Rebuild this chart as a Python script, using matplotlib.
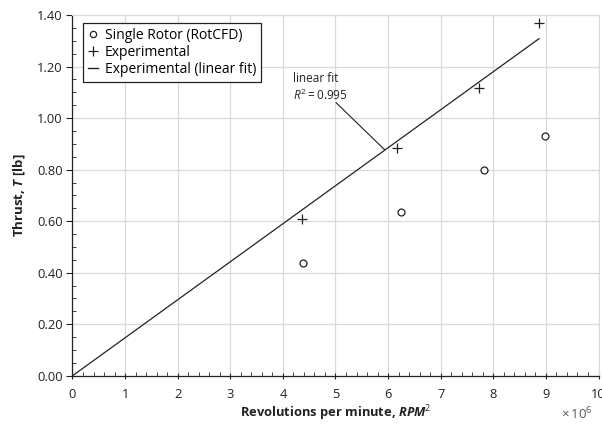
"""
Thrust vs RPM^2: single rotor RotCFD against experiment, with linear fit.
Output: out.png
"""

import numpy as np
import matplotlib
matplotlib.use("Agg")
import matplotlib.pyplot as plt
from matplotlib.ticker import MultipleLocator, FormatStrFormatter
from matplotlib.lines import Line2D

# ── Data (x in units of 10^6 RPM^2) ──────────────────────────────────────────
RPM2_CFD   = [4.38, 6.24, 7.82, 8.99]
THRUST_CFD = [0.437, 0.634, 0.800, 0.930]

RPM2_EXP   = [4.36, 6.17, 7.73, 8.87]
THRUST_EXP = [0.610, 0.885, 1.115, 1.368]

FIT_SLOPE  = 0.1475          # lb per 10^6 RPM^2, line through origin
FIT_X      = [0.0, 8.87]
FIT_R2     = 0.995

FONT = "Open Sans"
plt.rcParams["font.family"] = [FONT, "DejaVu Sans"]
plt.rcParams["mathtext.fontset"] = "custom"
plt.rcParams["mathtext.rm"] = FONT
plt.rcParams["mathtext.it"] = f"{FONT}:italic"
plt.rcParams["mathtext.bf"] = f"{FONT}:bold"
plt.rcParams["mathtext.bfit"] = f"{FONT}:bold:italic"

GRID = "#d9d9d9"
INK = "#222222"

fig = plt.figure(figsize=(6.02, 4.24), dpi=100)
ax = fig.add_axes([0.1204, 0.1137, 0.8738, 0.8509])

fit_x = np.array(FIT_X)
ax.plot(fit_x, FIT_SLOPE * fit_x, color=INK, lw=0.9, zorder=3)
ax.plot(RPM2_EXP, THRUST_EXP, ls="none", marker="+", ms=7, mew=0.9,
        color=INK, zorder=4)
ax.plot(RPM2_CFD, THRUST_CFD, ls="none", marker="o", ms=5, mew=0.9,
        mfc="white", mec=INK, zorder=4)

# annotation: label plus leader line down to the fit
ax.text(4.19, 1.178, f"linear fit\n$R^2 = {FIT_R2:.3f}$", ha="left", va="top",
        fontsize=8.5, color=INK, linespacing=1.25)
ax.annotate("", xy=(5.94, FIT_SLOPE * 5.94), xytext=(5.01, 1.060),
            arrowprops=dict(arrowstyle="-", color=INK, lw=0.8,
                            shrinkA=0, shrinkB=0))

ax.set_xlim(0, 10)
ax.set_ylim(0, 1.40)
ax.xaxis.set_major_locator(MultipleLocator(1))
ax.xaxis.set_minor_locator(MultipleLocator(0.2))
ax.yaxis.set_major_locator(MultipleLocator(0.2))
ax.yaxis.set_minor_locator(MultipleLocator(0.05))
ax.yaxis.set_major_formatter(FormatStrFormatter("%.2f"))

ax.grid(True, which="major", color=GRID, lw=0.9, zorder=0)
ax.set_axisbelow(True)
ax.spines[["top", "right"]].set_color(GRID)
ax.spines[["left", "bottom"]].set_color(INK)
ax.spines[["left", "bottom"]].set_linewidth(0.9)

ax.tick_params(axis="y", which="major", direction="out", length=4,
               width=0.8, color=INK, labelsize=9.3, labelcolor=INK, pad=3)
ax.tick_params(axis="y", which="minor", direction="in", length=3,
               width=0.6, color=INK)
ax.tick_params(axis="x", which="major", direction="inout", length=5,
               width=0.8, color=INK, labelsize=9.3, labelcolor=INK, pad=6)
ax.tick_params(axis="x", which="minor", direction="in", length=3,
               width=0.6, color=INK)

ax.set_xlabel("Revolutions per minute, $\\mathbfit{RPM}^2$", fontsize=9.3,
              fontweight="bold", color=INK, labelpad=2)
ax.set_ylabel("Thrust, $\\mathbfit{T}$ [lb]", fontsize=9.5,
              fontweight="bold", color=INK, labelpad=7)
fig.text(0.958, 0.024, "$\\times\\,10^6$", ha="center", va="center",
         fontsize=9.5, color="#555555")

handles = [
    Line2D([], [], ls="none", marker="o", ms=4.5, mew=0.9, mfc="white",
           mec=INK, label="Single Rotor (RotCFD)"),
    Line2D([], [], ls="none", marker="+", ms=7, mew=0.9, color=INK,
           label="Experimental"),
    Line2D([], [], color=INK, lw=1.0, label="Experimental (linear fit)"),
]
leg = ax.legend(handles=handles, loc="upper left", bbox_to_anchor=(0.02, 0.978),
                fontsize=10, frameon=True, fancybox=False, framealpha=1,
                edgecolor=INK, handlelength=0.7, handletextpad=0.5,
                borderpad=0.35, labelspacing=0.15, borderaxespad=0.0)
leg.get_frame().set_linewidth(0.9)

fig.savefig("out.png", dpi=100)
